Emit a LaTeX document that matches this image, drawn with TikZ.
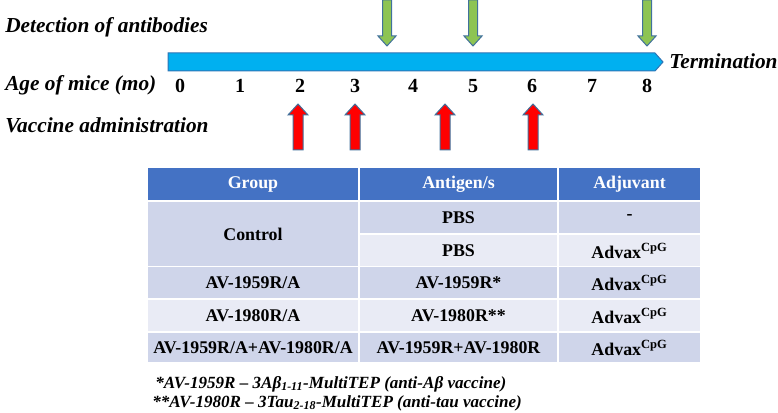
\documentclass[tikz,border=0pt]{standalone}
\usepackage{fontspec}
\setmainfont{Liberation Serif}
\usetikzlibrary{positioning}

\newlength\px \setlength\px{0.75pt}
\definecolor{barblue}{HTML}{00B0F0}
\definecolor{barline}{HTML}{2E75B6}
\definecolor{detgreen}{HTML}{8DC453}
\definecolor{arrowline}{HTML}{41719C}
\definecolor{vacred}{HTML}{FF0000}
\definecolor{hdrblue}{HTML}{4472C4}
\definecolor{rowdark}{HTML}{CFD5EA}
\definecolor{rowlight}{HTML}{E9EBF5}

\tikzset{
  lbl/.style={font=\fontsize{16}{18}\selectfont\bfseries\itshape, inner sep=0pt, anchor=base west},
  tick/.style={font=\fontsize{15}{17}\selectfont\bfseries, inner sep=0pt, anchor=base},
  cell/.style={draw=white, line width=1.5\px, inner sep=0pt, minimum height=33\px,
    font=\fontsize{13.4}{15}\selectfont\bfseries},
  hdr/.style={cell, fill=hdrblue, text=white, minimum height=34\px},
  darkrow/.style={cell, fill=rowdark},
  lightrow/.style={cell, fill=rowlight},
  colA/.style={minimum width=212\px},
  colB/.style={minimum width=199\px},
  colC/.style={minimum width=143\px},
  note/.style={font=\fontsize{12.8}{15}\selectfont\bfseries\itshape, inner sep=0pt, anchor=base west},
}

\begin{document}
\begin{tikzpicture}[x=0.75pt, y=-0.75pt]
  \useasboundingbox (0,0) rectangle (778,413);

  % timeline
  \draw[fill=barblue, draw=barline, line width=1\px]
    (168,53) -- (655,53) -- (663,62) -- (655,71) -- (168,71) -- cycle;
  \foreach \n/\x in {0/180,1/240,2/300,3/355,4/413,5/473,6/532,7/592,8/647}
    \node[tick] (t\n) at (\x,93) {\n};

  % antibody detection
  \foreach \c in {387,473,647}
    \draw[fill=detgreen, draw=arrowline, line width=1\px]
      (\c-4.5,0) -- (\c-4.5,36) -- (\c-9,36) -- (\c,46) -- (\c+9,36)
      -- (\c+4.5,36) -- (\c+4.5,0) -- cycle;

  % vaccinations
  \foreach \c in {298,355,445,533}
    \draw[fill=vacred, draw=arrowline, line width=1\px]
      (\c-5,150) -- (\c-5,115) -- (\c-10,115) -- (\c,104) -- (\c+10,115)
      -- (\c+5,115) -- (\c+5,150) -- cycle;

  \node[lbl] (det) at (5,33) {Detection of antibodies};
  \node[lbl] (age) at (5,91) {Age of mice (mo)};
  \node[lbl] (vac) at (5,133) {Vaccine administration};
  \node[lbl] (term) at (669,69) {Termination};

  % table
  \node[hdr,colA] (hGroup) at (253,184) {Group};
  \node[hdr,colB] (hAnti) at (458.5,184) {Antigen/s};
  \node[hdr,colC] (hAdj) at (629.5,184) {Adjuvant};

  \node[darkrow,colA,minimum height=66\px] (gCtrl) at (253,234) {Control};
  \node[darkrow,colB] (aPbsA) at (458.5,217.5) {PBS};
  \node[darkrow,colC] (jNone) at (629.5,217.5) {-};
  \node[lightrow,colB] (aPbsB) at (458.5,250.5) {PBS};
  \node[lightrow,colC] (jCtrl) at (629.5,250.5) {Advax\textsuperscript{CpG}};

  \node[darkrow,colA] (g59) at (253,283) {AV-1959R/A};
  \node[darkrow,colB] (a59) at (458.5,283) {AV-1959R*};
  \node[darkrow,colC] (j59) at (629.5,283) {Advax\textsuperscript{CpG}};

  \node[lightrow,colA] (g80) at (253,315.5) {AV-1980R/A};
  \node[lightrow,colB] (a80) at (458.5,315.5) {AV-1980R**};
  \node[lightrow,colC] (j80) at (629.5,315.5) {Advax\textsuperscript{CpG}};

  \node[darkrow,colA,minimum height=31\px] (gBoth) at (253,347.5) {AV-1959R/A+AV-1980R/A};
  \node[darkrow,colB,minimum height=31\px] (aBoth) at (458.5,347.5) {AV-1959R+AV-1980R};
  \node[darkrow,colC,minimum height=31\px] (jBoth) at (629.5,347.5) {Advax\textsuperscript{CpG}};

  % footnotes
  \node[note] (fn1) at (155,388) {*AV-1959R – 3Aβ\textsubscript{1-11}-MultiTEP (anti-Aβ vaccine)};
  \node[note] (fn2) at (152,407) {**AV-1980R – 3Tau\textsubscript{2-18}-MultiTEP (anti-tau vaccine)};
\end{tikzpicture}
\end{document}
